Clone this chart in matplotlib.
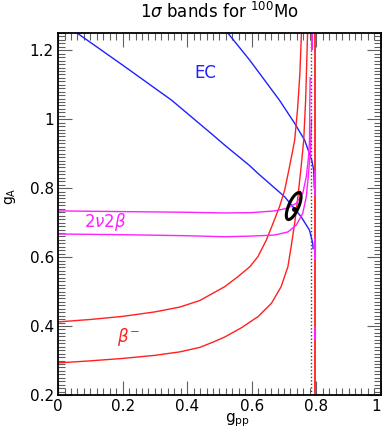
import numpy as np
import matplotlib
matplotlib.use("Agg")
from matplotlib import pyplot as plt
from matplotlib.ticker import MultipleLocator

# EC band edges (blue)
ec_upper_x = [0.526, 0.594, 0.686, 0.733, 0.764, 0.786, 0.792, 0.794]
ec_upper_y = [1.25, 1.171, 1.055, 0.988, 0.939, 0.881, 0.852, 0.80]
ec_lower_x = [0.059, 0.2, 0.352, 0.48, 0.516, 0.594, 0.619, 0.702, 0.753, 0.779, 0.789, 0.790]
ec_lower_y = [1.25, 1.157, 1.055, 0.954, 0.925, 0.865, 0.843, 0.775, 0.717, 0.678, 0.640, 0.625]

# 2nu2beta band edges (magenta)
dbd_upper_x = [0.0, 0.2, 0.4, 0.516, 0.6, 0.671, 0.707, 0.738, 0.758, 0.769, 0.776, 0.779, 0.780, 0.781]
dbd_upper_y = [0.734, 0.732, 0.730, 0.728, 0.729, 0.734, 0.741, 0.756, 0.785, 0.833, 0.891, 0.939, 1.055, 1.12]
dbd_lower_x = [0.0, 0.2, 0.4, 0.516, 0.6, 0.671, 0.712, 0.738, 0.758, 0.769, 0.776, 0.782, 0.785]
dbd_lower_y = [0.667, 0.665, 0.662, 0.659, 0.661, 0.664, 0.673, 0.693, 0.727, 0.775, 0.843, 0.910, 1.0]
# pieces of the magenta branch beyond the pole
dbd_branch_x = [0.786, 0.795, 0.796, 0.796]
dbd_branch_y0 = [1.20, 0.78, 0.591, 0.362]
dbd_branch_y1 = [1.25, 0.852, 0.655, 0.397]

# beta- band edges (red)
beta_upper_x = [0.0, 0.1, 0.2, 0.3, 0.377, 0.439, 0.516, 0.557, 0.594, 0.619, 0.645, 0.666,
                0.686, 0.702, 0.717, 0.733, 0.742, 0.749, 0.754]
beta_upper_y = [0.412, 0.419, 0.428, 0.441, 0.455, 0.474, 0.514, 0.543, 0.572, 0.601, 0.649, 0.698,
                0.746, 0.794, 0.862, 0.939, 1.03, 1.13, 1.25]
beta_lower_x = [0.0, 0.1, 0.2, 0.3, 0.377, 0.439, 0.479, 0.516, 0.568, 0.619, 0.661, 0.691, 0.712,
                0.722, 0.733, 0.743, 0.753, 0.761, 0.767, 0.773]
beta_lower_y = [0.293, 0.299, 0.306, 0.315, 0.325, 0.338, 0.353, 0.368, 0.395, 0.427, 0.466, 0.514, 0.572,
                0.630, 0.698, 0.775, 0.862, 0.939, 1.055, 1.25]
beta_branch_x = 0.797

# pole of the matrix elements
pole_x = 0.785

# 1 sigma overlap ellipse
ell_center = (0.730, 0.748)
ell_major = (0.0181, 0.0387)
ell_minor = (0.0140, -0.0058)
best_fit = (0.730, 0.739)

fig = plt.figure(figsize=(3.82, 4.29), dpi=100)
ax = fig.add_axes([0.152, 0.0793, 0.845, 0.8437])

ax.plot(ec_upper_x, ec_upper_y, color="#2020ff", lw=1)
ax.plot(ec_lower_x, ec_lower_y, color="#2020ff", lw=1)

ax.plot(beta_upper_x, beta_upper_y, color="#ff2020", lw=1)
ax.plot(beta_lower_x, beta_lower_y, color="#ff2020", lw=1)

ax.plot(dbd_upper_x, dbd_upper_y, color="#ff20ff", lw=1)
ax.plot(dbd_lower_x, dbd_lower_y, color="#ff20ff", lw=1)

ax.axvline(pole_x, color="#404040", lw=1, ls=(0, (1, 1.5)))
ax.axvline(beta_branch_x, color="#ff3030", lw=1.4)
ax.vlines(dbd_branch_x, dbd_branch_y0, dbd_branch_y1, color="#ff20ff", lw=1.5)

t = np.linspace(0, 2 * np.pi, 200)
ex = ell_center[0] + ell_major[0] * np.cos(t) + ell_minor[0] * np.sin(t)
ey = ell_center[1] + ell_major[1] * np.cos(t) + ell_minor[1] * np.sin(t)
ax.plot(ex, ey, color="black", lw=2.2)
ax.plot(*best_fit, "o", color="black", ms=2.5)

ax.text(0.455, 1.133, "EC", color="#2020ff", fontsize=12, ha="center", va="center")
ax.text(0.145, 0.701, r"$2\nu2\beta$", color="#ff20ff", fontsize=12, ha="center", va="center")
ax.text(0.216, 0.368, r"$\beta^{-}$", color="#ff2020", fontsize=12, ha="center", va="center")

xticks = [0, 0.2, 0.4, 0.6, 0.8, 1.0]
xtick_labels = ["0", "0.2", "0.4", "0.6", "0.8", "1"]
yticks = [0.2, 0.4, 0.6, 0.8, 1.0, 1.2]
ytick_labels = ["0.2", "0.4", "0.6", "0.8", "1", "1.2"]
ax.set_xticks(xticks, xtick_labels)
ax.set_yticks(yticks, ytick_labels)
ax.get_xticklabels()[-1].set_horizontalalignment("right")
ax.xaxis.set_minor_locator(MultipleLocator(0.02))
ax.yaxis.set_minor_locator(MultipleLocator(0.01))
ax.set_xlim(0, 1)
ax.set_ylim(0.2, 1.25)
ax.tick_params(which="both", direction="in", top=True, right=True, labelsize=11, width=0.8, color="#606060")
ax.tick_params(which="major", length=10, pad=3)
ax.tick_params(which="minor", length=5)
for s in ax.spines.values():
    s.set_linewidth(1.3)

ax.set_xlabel(r"g$_{\rm pp}$", fontsize=11, labelpad=0)
ax.xaxis.set_label_coords(0.557, -0.045)
ax.set_ylabel(r"g$_{\rm A}$", fontsize=10)
ax.yaxis.set_label_coords(-0.125, 0.55)

fig.text(0.575, 0.972, r"1$\sigma$ bands for $^{100}$Mo", fontsize=12, ha="center", va="center")

fig.savefig("out.png", dpi=100)
